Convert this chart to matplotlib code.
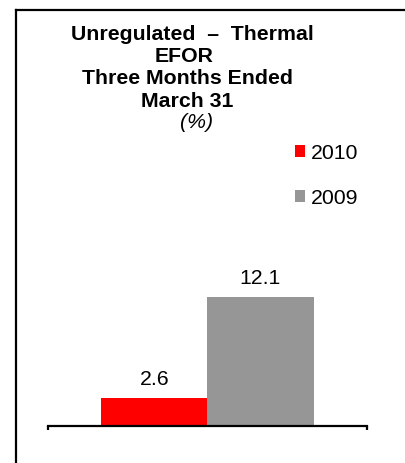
import numpy as np
import matplotlib
matplotlib.use("Agg")
import matplotlib.pyplot as plt
from matplotlib.lines import Line2D

plt.rcParams['font.family'] = ['Liberation Sans', 'DejaVu Sans']

# Data
series = ['2010', '2009']
values = [2.6, 12.1]
colors = ['#ff0000', '#969696']
title_lines = ['Unregulated  \u2013  Thermal', 'EFOR', 'Three Months Ended', 'March 31']
unit_label = '(%)'

W, H = 406, 463
FS = 15.3
fig = plt.figure(figsize=(W / 100, H / 100), dpi=100)

# axes placed in pixel terms
ax_left, ax_right, ax_base = 48, 367, 426
ymax = 14.0
px_per_unit = 10.65
ax_h = ymax * px_per_unit
ax = fig.add_axes([ax_left / W, (H - ax_base) / H,
                   (ax_right - ax_left) / W, ax_h / H])

bar_w = 106 / (ax_right - ax_left)
offsets = [-bar_w / 2, bar_w / 2]
bars = []
for off, v, c, s in zip(offsets, values, colors, series):
    b = ax.bar(off, v, width=bar_w, color=c, label=s)
    bars.append(b)
    ax.annotate(f'{v}', (off, v), xytext=(0, 13.5), textcoords='offset points',
                ha='center', va='center', fontsize=FS)

ax.set_xlim(-0.5, 0.5)
ax.set_ylim(0, ymax)
for sp in ['top', 'right', 'left']:
    ax.spines[sp].set_visible(False)
ax.spines['bottom'].set_linewidth(1.6)
ax.set_yticks([])
ax.set_xticks([-0.5, 0.5])
ax.set_xticklabels([])
ax.tick_params(axis='x', direction='out', length=3, width=1.6)

# title
title_y = [35, 57, 79, 101]
title_x = [192, 184, 188, 187]
for t, x, y in zip(title_lines, title_x, title_y):
    fig.text(x / W, 1 - y / H, t, ha='center', va='center',
             fontsize=FS, fontweight='bold')
fig.text(197 / W, 1 - 123 / H, unit_label, ha='center', va='center',
         fontsize=FS, style='italic')

# legend
fig.legend(handles=[b[0] for b in bars], labels=series,
           loc='upper left', bbox_to_anchor=(284 / W, 1 - 133 / H),
           frameon=False, fontsize=FS, handlelength=0.5, handleheight=0.5,
           handletextpad=0.25, labelspacing=1.22, borderpad=0)

# partial frame (top and left)
fig.add_artist(Line2D([16 / W, 1], [1 - 10 / H, 1 - 10 / H],
                      transform=fig.transFigure, color='black', lw=1.6))
fig.add_artist(Line2D([16 / W, 16 / W], [0, 1 - 10 / H],
                      transform=fig.transFigure, color='black', lw=1.6))

fig.savefig('out.png', dpi=100)
